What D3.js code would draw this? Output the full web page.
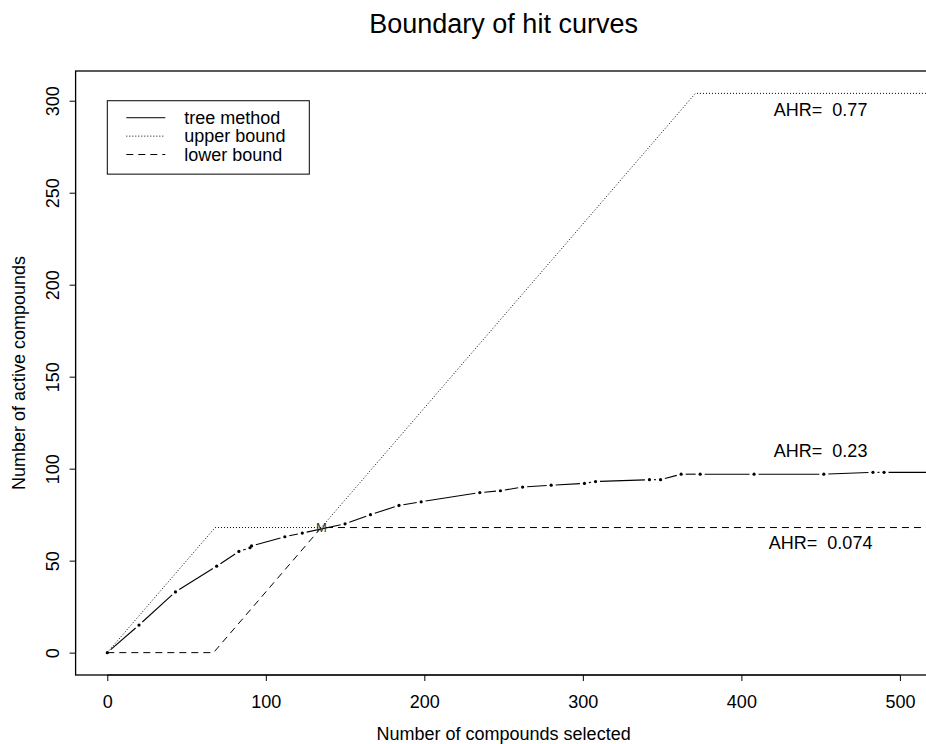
<!DOCTYPE html>
<html>
<head>
<meta charset="utf-8">
<script src="https://cdn.jsdelivr.net/npm/d3@7"></script>
<style>
  body { margin: 0; background: #fff; }
  text { font-family: "Liberation Sans", Arial, Helvetica, sans-serif; fill: #000; white-space: pre; }
</style>
</head>
<body>
<div id="chart"></div>
<script>
// tree method hit curve
const treeX = [0, 20, 43, 69, 83, 90, 91, 112, 123, 150, 166, 184, 198, 235, 248, 262, 280, 301, 308, 342, 349, 362, 374, 408, 452, 483, 490, 525]
const treeY = [0, 15, 33, 47, 55, 57, 58, 63, 65, 70, 75, 80, 82, 87, 88, 90, 91, 92, 93, 94, 94, 97, 97, 97, 97, 98, 98, 98]

// bounds
const upperX = [0, 68, 135, 371, 525]
const upperY = [0, 68, 68, 304, 304]
const lowerX = [0, 67, 135, 525]
const lowerY = [0, 0, 68, 68]

// AHR labels
const ahrLabels = ['AHR=  0.77', 'AHR=  0.23', 'AHR=  0.074']
const ahrX = [450, 450, 450]
const ahrY = [295, 110, 60]

const legendLabels = ['tree method', 'upper bound', 'lower bound']
const legendDash = [null, '1,2', '7,5']

const xTicks = [0, 100, 200, 300, 400, 500]
const yTicks = [0, 50, 100, 150, 200, 250, 300]

const w = 926, h = 744

// R style: usr = data range extended by 4%
const xlim = [0, 500], ylim = [0, 304]
const xpad = (xlim[1] - xlim[0]) * 0.04, ypad = (ylim[1] - ylim[0]) * 0.04
const box = { left: 75.6, right: 931.6, top: 71, bottom: 675 }

const x = d3.scaleLinear().domain([xlim[0] - xpad, xlim[1] + xpad]).range([box.left, box.right])
const y = d3.scaleLinear().domain([ylim[0] - ypad, ylim[1] + ypad]).range([box.bottom, box.top])

const svg = d3.select('#chart').append('svg')
    .attr('width', w)
    .attr('height', h)

svg.append('defs').append('clipPath').attr('id', 'clip')
    .append('rect')
    .attr('x', box.left).attr('y', box.top)
    .attr('width', box.right - box.left).attr('height', box.bottom - box.top)

// title
svg.append('text')
    .attr('x', (box.left + box.right) / 2)
    .attr('y', 33)
    .attr('text-anchor', 'middle')
    .style('font-size', '27px')
    .text('Boundary of hit curves')

// box
svg.append('rect')
    .attr('x', box.left).attr('y', box.top)
    .attr('width', box.right - box.left).attr('height', box.bottom - box.top)
    .attr('fill', 'none').attr('stroke', '#000').attr('stroke-width', 1.3)

// axes
const xAxis = d3.axisBottom(x).tickValues(xTicks).tickSize(6).tickPadding(14).tickSizeOuter(0)
const gx = svg.append('g')
    .attr('transform', `translate(0,${box.bottom})`)
    .call(xAxis)
gx.select('.domain')
    .attr('d', `M${x(xTicks[0])},0H${x(xTicks[xTicks.length - 1])}`)
gx.selectAll('text').style('font-size', '18px').attr('font-family', null)

const yAxis = d3.axisLeft(y).tickValues(yTicks).tickSize(6).tickSizeOuter(0)
const gy = svg.append('g')
    .attr('transform', `translate(${box.left},0)`)
    .call(yAxis)
gy.select('.domain')
    .attr('d', `M0,${y(yTicks[0])}V${y(yTicks[yTicks.length - 1])}`)
gy.selectAll('text')
    .style('font-size', '18px')
    .attr('font-family', null)
    .attr('text-anchor', 'middle')
    .attr('x', null).attr('dy', null)
    .attr('transform', 'translate(-16.5,0) rotate(-90)')
svg.selectAll('.tick line').attr('stroke', '#000')

// axis titles
svg.append('text')
    .attr('x', (box.left + box.right) / 2)
    .attr('y', 740)
    .attr('text-anchor', 'middle')
    .style('font-size', '18px')
    .text('Number of compounds selected')

svg.append('text')
    .attr('transform', `translate(25,${(box.top + box.bottom) / 2}) rotate(-90)`)
    .attr('text-anchor', 'middle')
    .style('font-size', '18px')
    .text('Number of active compounds')

const plot = svg.append('g').attr('clip-path', 'url(#clip)')

const line = d3.line().x(d => x(d[0])).y(d => y(d[1]))

plot.append('path')
    .datum(d3.zip(upperX, upperY))
    .attr('d', line)
    .attr('fill', 'none').attr('stroke', '#000').attr('stroke-width', 1)
    .attr('stroke-dasharray', '1,2')

plot.append('path')
    .datum(d3.zip(lowerX, lowerY))
    .attr('d', line)
    .attr('fill', 'none').attr('stroke', '#000').attr('stroke-width', 1)
    .attr('stroke-dasharray', '7,5')

// tree method, type = "b": segments with gaps round the points
const pts = d3.zip(treeX, treeY).map(d => [x(d[0]), y(d[1])])
const gap = 4.5
const segs = []
for (let i = 1; i < pts.length; i++) {
    const [x0, y0] = pts[i - 1], [x1, y1] = pts[i]
    const len = Math.hypot(x1 - x0, y1 - y0)
    if (len <= 2 * gap) continue
    const ux = (x1 - x0) / len, uy = (y1 - y0) / len
    segs.push([x0 + ux * gap, y0 + uy * gap, x1 - ux * gap, y1 - uy * gap])
}
plot.selectAll('.seg')
    .data(segs)
    .enter()
    .append('line')
    .attr('class', 'seg')
    .attr('x1', d => d[0]).attr('y1', d => d[1])
    .attr('x2', d => d[2]).attr('y2', d => d[3])
    .attr('stroke', '#000').attr('stroke-width', 1.1)

plot.selectAll('.pt')
    .data(pts)
    .enter()
    .append('circle')
    .attr('class', 'pt')
    .attr('cx', d => d[0]).attr('cy', d => d[1])
    .attr('r', 1.6)
    .attr('fill', '#000')

// M at crossing
svg.append('text')
    .attr('x', x(upperX[2]))
    .attr('y', y(upperY[2]))
    .attr('dy', '0.35em')
    .attr('text-anchor', 'middle')
    .style('font-size', '13px')
    .style('fill', '#333')
    .text('M')

// AHR labels
svg.selectAll('.ahr')
    .data(ahrLabels)
    .enter()
    .append('text')
    .attr('class', 'ahr')
    .attr('x', (d, i) => x(ahrX[i]))
    .attr('y', (d, i) => y(ahrY[i]))
    .attr('dy', '0.35em')
    .attr('text-anchor', 'middle')
    .style('font-size', '18px')
    .text(d => d)

// legend
const lg = svg.append('g')
const lgLeft = x(0), lgTop = y(300)
lg.append('rect')
    .attr('x', lgLeft).attr('y', lgTop)
    .attr('width', 202).attr('height', 73.4)
    .attr('fill', '#fff').attr('stroke', '#000').attr('stroke-width', 1)

legendLabels.forEach((label, i) => {
    const ry = lgTop + 17 + i * 18.4
    lg.append('line')
        .attr('x1', lgLeft + 19).attr('x2', lgLeft + 58)
        .attr('y1', ry).attr('y2', ry)
        .attr('stroke', '#000').attr('stroke-width', 1)
        .attr('stroke-dasharray', legendDash[i])
    lg.append('text')
        .attr('x', lgLeft + 77)
        .attr('y', ry)
        .attr('dy', '0.35em')
        .style('font-size', '18px')
        .text(label)
})
</script>
</body>
</html>
